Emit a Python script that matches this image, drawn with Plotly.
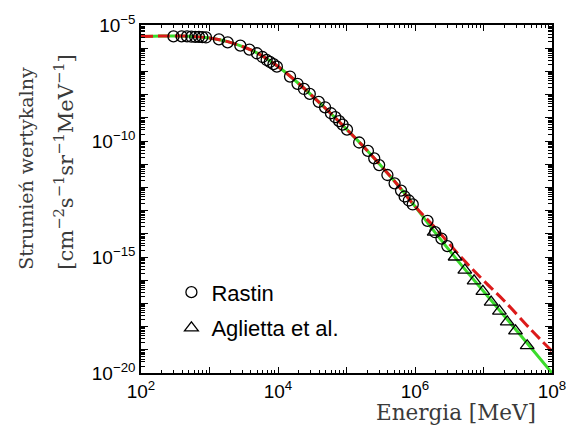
import plotly.graph_objects as go

# ---- data ----
rastin_E = [298, 392, 470, 543, 619, 701, 787, 888, 1373, 1843, 2820, 3824, 4920,
            5930, 6825, 7605, 8590, 9627, 14980, 19275, 23930, 29110, 39360, 48640,
            59250, 68640, 78240, 87780, 101700, 153100, 205600, 254100, 299700,
            395500, 503500, 625200, 705600, 812800, 926800, 1.523e6, 1.966e6,
            2.435e6, 2.964e6]
rastin_F = [3.23e-6, 3.23e-6, 3.23e-6, 3.13e-6, 3.07e-6, 3.07e-6, 3.01e-6, 2.90e-6,
            2.40e-6, 1.79e-6, 1.29e-6, 8.71e-7, 6.05e-7, 4.17e-7, 3.10e-7, 2.55e-7,
            2.05e-7, 1.60e-7, 6.00e-8, 2.92e-8, 1.75e-8, 1.07e-8, 4.88e-9, 2.84e-9,
            1.57e-9, 1.06e-9, 7.16e-10, 5.07e-10, 3.10e-10, 8.63e-11, 3.74e-11,
            1.79e-11, 9.16e-12, 3.42e-12, 1.50e-12, 7.30e-13, 4.05e-13, 2.73e-13,
            1.84e-13, 3.63e-14, 1.17e-14, 6.18e-15, 2.95e-15]

aglietta_E = [1.905e6, 3.85e6, 5.34e6, 7.29e6, 9.79e6, 1.293e7, 1.708e7, 2.219e7,
              2.931e7, 4.342e7]
aglietta_F = [1.17e-14, 1.0e-15, 2.70e-16, 9.42e-17, 3.29e-17, 1.14e-17, 4.69e-18,
              1.59e-18, 6.55e-19, 1.50e-19]

green_E = [1e2, 2e2, 3e2, 5e2, 1e3, 2e3, 5e3, 1e4, 2e4, 5e4, 1e5, 2e5, 5e5, 1e6,
           2e6, 5e6, 1e7, 2e7, 5e7, 1e8]
green_F = [3.16e-6, 3.35e-6, 3.39e-6, 3.29e-6, 2.73e-6, 1.78e-6, 6.18e-7, 1.62e-7,
           3.01e-8, 2.45e-9, 3.26e-10, 3.93e-11, 1.88e-12, 1.53e-13, 1.07e-14,
           3.74e-16, 3.32e-17, 2.95e-18, 1.16e-19, 1e-20]

red_E = [1e2, 2e2, 3e2, 5e2, 1e3, 2e3, 5e3, 1e4, 2e4, 5e4, 1e5, 2e5, 5e5, 1e6,
         2e6, 5e6, 1e7, 2e7, 5e7, 1e8]
red_F = [3.16e-6, 3.35e-6, 3.39e-6, 3.29e-6, 2.73e-6, 1.78e-6, 6.18e-7, 1.62e-7,
         3.01e-8, 2.45e-9, 3.26e-10, 3.93e-11, 1.88e-12, 1.53e-13, 1.73e-14,
         8.13e-16, 9.71e-17, 1.30e-17, 7.02e-19, 8.7e-20]

# labelled ticks and every-decade tick marks
x_label_vals = [1e2, 1e4, 1e6, 1e8]
x_labels = ["10<sup>2</sup>", "10<sup>4</sup>", "10<sup>6</sup>", "10<sup>8</sup>"]
y_label_vals = [1e-5, 1e-10, 1e-15, 1e-20]
y_labels = ["10<sup>\u22125</sup>", "10<sup>\u221210</sup>",
            "10<sup>\u221215</sup>", "10<sup>\u221220</sup>"]
x_decades = [1e2, 1e3, 1e4, 1e5, 1e6, 1e7, 1e8]
y_decades = [1e-5, 1e-6, 1e-7, 1e-8, 1e-9, 1e-10, 1e-11, 1e-12, 1e-13, 1e-14,
             1e-15, 1e-16, 1e-17, 1e-18, 1e-19, 1e-20]

GREEN = "#3bdc2c"
RED = "#dc1a1a"

fig = go.Figure()
fig.add_trace(go.Scatter(x=green_E, y=green_F, mode="lines",
                         line=dict(color=GREEN, width=3, shape="spline"),
                         showlegend=False, hoverinfo="skip"))
fig.add_trace(go.Scatter(x=red_E, y=red_F, mode="lines",
                         line=dict(color=RED, width=3, dash="12px,5px", shape="spline"),
                         showlegend=False, hoverinfo="skip"))
fig.add_trace(go.Scatter(x=rastin_E, y=rastin_F, mode="markers", name="Rastin",
                         legendgroup="a",
                         marker=dict(symbol="circle-open", size=11,
                                     color="black", line=dict(width=1.3))))
fig.add_trace(go.Scatter(x=aglietta_E, y=aglietta_F, mode="markers",
                         name="Aglietta et al.", legendgroup="b",
                         marker=dict(symbol="triangle-up-open", size=12,
                                     color="black", line=dict(width=1.3))))
# empty trace that binds the overlay axes carrying the decade tick marks
fig.add_trace(go.Scatter(x=[], y=[], xaxis="x2", yaxis="y2", showlegend=False,
                         hoverinfo="skip"))

axis_common = dict(
    showline=True, linecolor="black", linewidth=1.5, mirror="ticks",
    ticks="inside", tickcolor="black", tickwidth=1.2, showgrid=False,
    zeroline=False, tickfont=dict(family="Liberation Sans, Arial", size=19, color="black"),
)

fig.update_layout(
    xaxis=dict(type="log", range=[2, 8], tickmode="array", tickvals=x_label_vals,
               ticktext=x_labels, ticklen=6,
               minor=dict(ticks="inside", ticklen=3, tickcolor="black",
                          tickwidth=1, dtick="D1", showgrid=False),
               **axis_common),
    yaxis=dict(type="log", range=[-20, -5], tickmode="array", tickvals=y_label_vals,
               ticktext=y_labels, ticklen=7,
               minor=dict(ticks="inside", ticklen=4, tickcolor="black",
                          tickwidth=1, dtick="D1", showgrid=False),
               **axis_common),
    xaxis2=dict(type="log", range=[2, 8], overlaying="x", tickmode="array",
                tickvals=x_decades, showticklabels=False, ticks="inside", ticklen=6,
                tickcolor="black", tickwidth=1.2, mirror="ticks", showline=False,
                showgrid=False, zeroline=False),
    yaxis2=dict(type="log", range=[-20, -5], overlaying="y", tickmode="array",
                tickvals=y_decades, showticklabels=False, ticks="inside", ticklen=7,
                tickcolor="black", tickwidth=1.2, mirror="ticks", showline=False,
                showgrid=False, zeroline=False),
)

fig.add_annotation(text="Strumień wertykalny", xref="paper", yref="paper",
                   x=-0.2796, y=0.587, xanchor="center", yanchor="middle",
                   textangle=-90, showarrow=False,
                   font=dict(family="DejaVu Serif, Liberation Serif, serif", size=19,
                             color="#3a3a3a"))
fig.add_annotation(text="[cm<sup>\u22122</sup>s<sup>\u22121</sup>sr<sup>\u22121</sup>MeV<sup>\u22121</sup>]",
                   xref="paper", yref="paper",
                   x=-0.186, y=0.606, xanchor="center", yanchor="middle",
                   textangle=-90, showarrow=False,
                   font=dict(family="DejaVu Serif, Liberation Serif, serif", size=21,
                             color="#3a3a3a"))
fig.add_annotation(text="Energia [MeV]", xref="paper", yref="paper",
                   x=0.767, y=-0.114, xanchor="center", yanchor="middle",
                   showarrow=False,
                   font=dict(family="DejaVu Serif, Liberation Serif, serif", size=21.5,
                             color="#3a3a3a"))

fig.update_layout(
    width=578, height=429,
    margin=dict(l=141, r=15, t=22, b=56),
    paper_bgcolor="white", plot_bgcolor="white",
    showlegend=True,
    legend=dict(x=0.074, y=0.292, xanchor="left", yanchor="top",
                bgcolor="rgba(0,0,0,0)", borderwidth=0, traceorder="grouped",
                tracegroupgap=4,
                font=dict(family="Liberation Sans, Arial", size=22, color="black")),
)

fig.write_html("out.html")
